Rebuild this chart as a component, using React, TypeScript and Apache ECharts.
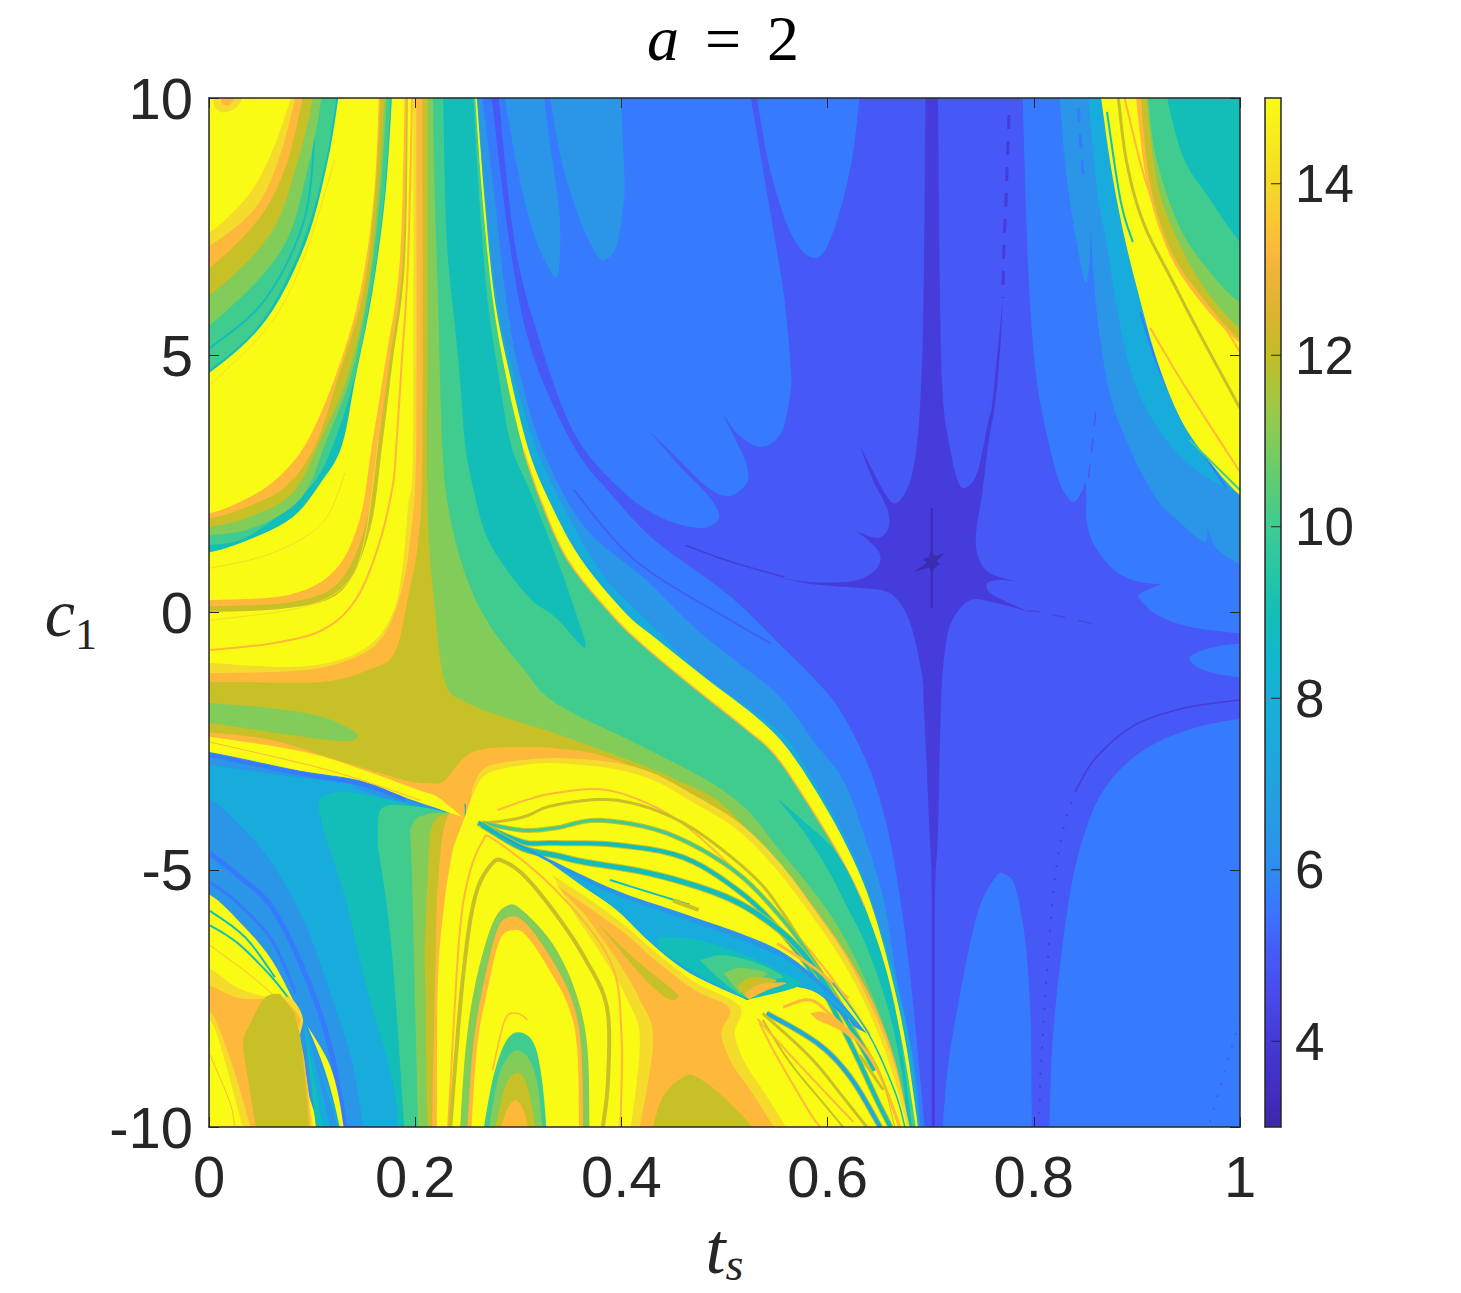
import React, { useEffect, useRef } from "react";
import * as echarts from "echarts";

// Level colours (value 3..15)
const levelValues = [3, 4, 5, 6, 7, 8, 9, 10, 11, 12, 13, 14, 15];
const levelColors = ["#3C2BB0", "#463CDC", "#4659F7", "#367BFD", "#2B95E8", "#17ACDB", "#14BEB8", "#41CC8F", "#82CC59", "#C8C027", "#FEB83B", "#F5DB2C", "#F9FB15"];
const barValues = [3, 3.5, 4, 4.5, 5, 5.5, 6, 6.5, 7, 7.5, 8, 8.5, 9, 9.5, 10, 10.5, 11, 11.5, 12, 12.5, 13, 13.2, 14, 15];
const barColors = ["#3E26A8", "#4230C4", "#4538D7", "#474AE9", "#4659F7", "#3B74FF", "#2D8CF0", "#279AE6", "#22A2DF", "#1AAADB", "#18AFD8", "#10B8CC", "#14BEB6", "#28C6A4", "#3ECC92", "#5ECC74", "#80CC5A", "#A5C740", "#C4BD27", "#DDB32E", "#F0B438", "#FEB83B", "#F5D927", "#F9FB15"];
const tsTicks = [0, 0.2, 0.4, 0.6, 0.8, 1];
const c1Ticks = [-10, -5, 0, 5, 10];
const barTicks = [4, 6, 8, 10, 12, 14];

// Region outlines as (t_s, c1) pairs
const all = [-.02,-10.2, 1.02,-10.2, 1.02,10.2, -.02,10.2];
const p5 = [.273,10.2, .293,6.97, .314,5.02, .354,3.22, .39,2.3, .433,1.39, .504,.34, .554,-.63, .587,-1.29, .612,-1.9, .638,-2.91, .655,-3.94, .668,-5.26, .681,-7.22, .695,-10.2, 1.02,-10.2, 1.02,10.2];
const big6 = [.28,10.2, .296,7.24, .318,5.45, .354,3.49, .4,2.38, .439,1.84, .475,1.64, .492,1.76, .494,1.95, .483,2.3, .454,2.9, .426,3.55, .426,3.55, .458,2.92, .483,2.44, .504,2.26, .521,2.5, .522,2.83, .511,3.35, .498,3.86, .498,3.86, .515,3.43, .536,3.22, .555,3.49, .564,4.28, .564,4.81, .558,6.11, .549,7.24, .54,8.29, .524,10.2];
const topLobe6 = [.53,10.2, .544,8.62, .566,7.3, .589,6.89, .606,7.43, .623,8.74, .632,10.2];
const botLobe6 = [.711,-10.2, .717,-8.78, .731,-7.15, .746,-5.8, .763,-5.14, .772,-5.09, .782,-5.34, .792,-6.43, .797,-8, .798,-10.2];
const cornerLobe6 = [.815,-10.2, .818,-8.39, .828,-6.45, .841,-4.88, .861,-3.69, .887,-2.99, .92,-2.52, .962,-2.21, 1.005,-2.05, 1.02,-2.03, 1.02,-10.2];
const edgeLobe6 = [1.02,-.55, .978,-.66, .956,-.8, .951,-.91, .962,-1.1, .985,-1.22, 1.02,-1.3];
const rightLobe6 = [.789,10.2, .792,8.09, .796,6.11, .803,4.48, .815,3.25, .826,2.48, .838,2.15, .847,2.38, .85,2.57, .85,2.57, .851,2.19, .851,1.8, .858,1.33, .877,.84, .899,.61, .924,.55, .924,.55, .904,.38, .903,.26, .92,-.05, .952,-.28, 1.005,-.42, 1.02,-.45, 1.02,10.2];
const lobe7a = [.285,10.2, .3,8.54, .316,7.3, .331,6.64, .337,6.52, .34,6.77, .34,7.76, .331,9.07, .324,10.2];
const lobe7b = [.329,10.2, .343,8.68, .361,7.57, .377,6.93, .385,6.87, .395,7.1, .401,7.76, .403,8.41, .399,10.2];
const star4 = [.695,10.2, .693,6.07, .69,4.13, .685,3.02, .678,2.44, .667,2.13, .658,2.24, .646,2.67, .631,3.25, .631,3.25, .644,2.57, .654,2.19, .659,1.93, .659,1.64, .649,1.45, .627,1.58, .627,1.58, .639,1.41, .651,1.12, .646,.82, .625,.61, .586,.59, .554,.67, .554,.67, .586,.55, .634,.47, .658,.4, .673,.1, .683,-.4, .692,-1.26, .693,-1.7, .695,-2.52, .699,-4.33, .701,-5.66, .701,-10.2, .704,-10.2, .704,-5.66, .707,-4.33, .71,-1.74, .714,-.73, .721,-.15, .738,.24, .76,.2, .793,.03, .793,.03, .764,.3, .755,.44, .756,.59, .767,.63, .781,.61, .781,.61, .757,.77, .746,1.08, .744,1.54, .75,2.32, .756,3.29, .763,4.13, .768,5.3, .77,6.11, .77,6.11, .76,4.13, .756,3.74, .745,2.71, .733,2.42, .726,2.57, .719,3.16, .712,4.13, .709,6.07, .707,10.2];
const coreBlob3 = [.701,1.25, .704,1.1, .713,1.15, .706,1, .709,.95, .704,.87, .701,.75, .698,.87, .685,.8, .696,.97, .692,1.03, .698,1.07];
const coreBar3 = [.701,2.03, .701,.09];
const right7 = [.824,10.2, .832,8.44, .842,7.14, .85,6.42, .854,6.81, .855,7.47, .855,7.47, .861,5.84, .874,4.23, .896,3.06, .92,2.18, .939,1.8, .961,1.41, .968,1.41, .968,1.64, .968,1.64, .981,1.17, 1.02,.75, 1.02,10.2];
const right8 = [.852,10.2, .862,8.11, .871,7.14, .881,5.84, .896,4.56, .92,3.58, .951,2.87, .987,2.42, 1.02,2.2, 1.02,10.2];
const right15 = [.864,10.2, .874,8.76, .886,7.47, .9,6.31, .92,4.87, .944,3.7, .973,2.87, 1,2.28, 1.02,2.1, 1.02,10.2];
const right13 = [.898,10.2, .91,8.31, .932,6.95, .964,5.98, 1,5.24, 1.02,5.2, 1.02,10.2];
const right12 = [.903,10.2, .913,8.31, .935,6.95, .968,6.01, 1,5.3, 1.02,5.28, 1.02,10.2];
const right11 = [.908,10.2, .92,8.31, .942,7.14, .968,6.23, 1,5.52, 1.02,5.5, 1.02,10.2];
const right10 = [.91,10.2, .918,8.89, .942,7.47, .973,6.56, 1,6.03, 1.02,6, 1.02,10.2];
const right9 = [.927,10.2, .944,8.89, .968,8.11, 1,7.2, 1.02,6.9, 1.02,10.2];
const rs1 = [.882,10, .89,8.76, .906,7.59, .935,6.42, .964,5.3, 1,3.97];
const rs2 = [.888,10, .913,8.11, .949,6.75, 1,5.06];
const rs3 = [.913,5.53, .944,4.48, 1,2.73];
const rs4 = [.871,9.73, .884,8.02, .896,7.2];
const rs5 = [.903,5.84, .925,4.56, .958,3.31, .987,2.42];
const rs6 = [.951,3.35, 1,2.38];
const rs7 = [.843,9.8, .848,8.44];
const left7 = [.264,10.2, .277,8.09, .289,5.98, .302,4.6, .325,3.1, .365,1.64, .422,.67, .468,-.24, .51,-.93, .554,-1.64, .587,-2.52, .616,-3.29, .638,-4.48, .655,-5.64, .668,-7.22, .684,-8.78, .691,-10.2, -.02,-10.2, -.02,10.2];
const left8 = [.26,10.2, .268,8.09, .28,5.98, .296,4.6, .318,3.16, .346,1.97, .382,.73, .429,-.24, .476,-1.16, .554,-2.33, .587,-3.29, .616,-4.33, .638,-5.34, .664,-6.99, .68,-8.39, .69,-10.2, -.02,-10.2, -.02,10.2];
const curve15 = [.259,10.2, .267,8.09, .277,6.11, .292,4.6, .31,3.16, .33,2.17, .36,1.06, .403,.01, .435,-.53, .484,-1.31, .532,-2.05, .561,-2.64, .593,-3.61, .621,-4.64, .642,-5.65, .661,-6.99, .676,-8.39, .689,-10.2, -.02,-10.2, -.02,10.2];
const curve10 = [.2575,10.2, .265,8.09, .275,6.11, .288,4.6, .305,3.16, .322,2.17, .348,1.02, .391,-.05, .423,-.67, .471,-1.47, .52,-2.25, .549,-2.77, .581,-3.71, .612,-4.74, .636,-5.71, .657,-7.05, .673,-8.43, .687,-10.2, -.02,-10.2, -.02,10.2];
const curveEdge = [.305,3.16, .322,2.17, .348,1.02, .391,-.05, .423,-.67, .471,-1.47, .52,-2.25, .549,-2.77, .581,-3.71, .612,-4.74, .636,-5.71];
const upper9 = [.256,10.2, .262,8.09, .27,6.11, .281,4.6, .293,3.25, .311,2.38, .336,1.12, .355,.04, .365,-.69, .336,-.09, .313,.24, .287,.88, .268,1.54, .255,2.52, .248,3.35, .242,4.87, .232,6.81, .229,8.11, .227,10.2];
const lower9 = [.551,-3.61, .576,-4.04, .609,-4.68, .634,-5.65, .655,-6.82, .67,-8.18, .683,-10.2, .678,-10.2, .673,-9.09, .66,-7.79, .638,-6.5, .619,-5.73, .599,-4.95, .576,-4.23];
const left11 = [.217,10.2, .219,8.11, .222,6.17, .226,3.35, .232,2.05, .248,.77, .271,-.21, .304,-1.07, .336,-1.76, .418,-2.58, .483,-3.26, .522,-3.84, .551,-4.56, .583,-5.34, .612,-6.17, .641,-7.34, .665,-8.7, .678,-10.2, -.02,-10.2, -.02,10.2];
const left12 = [.212,10.2, .212,6.07, .212,2.05, .219,.1, .229,-1.37, .251,-1.76, .287,-2.04, .336,-2.35, .418,-2.95, .454,-3.26, .493,-3.65, .532,-4.43, .564,-5.14, .59,-5.98, .617,-6.85, .641,-7.83, .663,-8.9, .675,-10.2, -.02,-10.2, -.02,10.2];
const ul13 = [.207,10.2, .207,3.25, .203,1.41, .193,.3, .18,-.79, .154,-1.12, .11,-1.35, .028,-1.35, -.02,-1.35, -.02,10.2];
const ul14 = [.201,10.2, .201,3.35, .195,1.41, .185,.3, .168,-.48, .142,-.87, .093,-1.12, .001,-1.18, -.02,-1.18, -.02,10.2];
const ul15 = [.198,10.2, .198,3.35, .193,2.05, .187,.77, .178,-.02, .158,-.6, .125,-.93, .077,-1.06, .001,-.98, -.02,-.98, -.02,10.2];
const w3a = [.193,10.2, .19,6.81, .178,4.87, .168,3.25, .156,1.6, .129,.43, .079,.09, .001,.01, -.02,0, -.02,10.2];
const w3b = [.192,10.2, .188,6.81, .175,4.87, .164,3.25, .152,1.7, .125,.57, .078,.2, .001,.12, -.02,.1, -.02,10.2];
const w3c = [.19,10.2, .185,6.81, .171,4.87, .158,3.25, .146,1.8, .122,.82, .077,.34, .001,.24, -.02,.22, -.02,10.2];
const w2a = [.178,10.2, .171,8.11, .158,6.17, .142,4.56, .129,3.25, .11,2.57, .081,1.85, .038,1.41, .001,1.17, -.02,1.15, -.02,10.2];
const w2b = [.177,10.2, .17,8.11, .157,6.17, .141,4.56, .122,3.35, .098,2.44, .04,1.5, .001,1.31, -.02,1.28, -.02,10.2];
const w2c = [.173,10.2, .166,8.11, .154,6.17, .137,4.56, .114,3.35, .09,2.24, .045,1.66, .001,1.5, -.02,1.47, -.02,10.2];
const w2d = [.171,10.2, .164,8.11, .153,6.17, .134,4.56, .108,3.35, .081,2.32, .038,1.85, .001,1.66, -.02,1.63, -.02,10.2];
const w2e = [.167,10.2, .161,8.11, .149,6.17, .125,4.56, .103,3.25, .074,2.44, .03,2, .001,1.83, -.02,1.8, -.02,10.2];
const w2f = [.165,10.2, .16,8.11, .146,6.17, .122,4.56, .093,3.25, .061,2.52, .028,2.13, .001,1.93, -.02,1.9, -.02,10.2];
const w1a = [.127,10.2, .115,8.76, .093,7.14, .054,5.65, .001,4.67, -.02,4.6, -.02,10.2];
const w1b = [.125,10.2, .113,8.76, .09,7.14, .051,5.65, .001,4.73, -.02,4.66, -.02,10.2];
const w1c = [.111,10.2, .096,8.64, .069,7, .001,5.59, -.02,5.55, -.02,10.2];
const w1d = [.103,10.2, .086,8.76, .059,7.34, .001,6.17, -.02,6.1, -.02,10.2];
const w1e = [.093,10.2, .076,8.76, .049,7.67, .001,6.71, -.02,6.65, -.02,10.2];
const w1f = [.086,10.2, .069,8.89, .045,7.86, .001,7.14, -.02,7.1, -.02,10.2];
const w1g = [.083,10.2, .061,8.95, .038,8.11, .001,7.39, -.02,7.33, -.02,10.2];
const tl14 = [.006,10.2, .005,9.85, .014,9.72, .028,9.85, .036,10.2];
const tl13 = [.012,10.2, .012,9.93, .02,9.87, .03,10.2];
const ulS1 = [.001,5.14, .054,6.07, .093,7.67, .103,9.57];
const ulS2 = [.001,4.42, .061,5.65, .093,6.95, .122,8.8];
const ulS3 = [.197,10, .193,6.81, .187,4.87, .182,3.35, .178,2.44, .164,1.27, .142,.24, .11,-.34, .061,-.6, .001,-.73];
const ulS4 = [.132,2.71, .11,1.74, .061,1.15, .001,.86];
const ulS5 = [.164,3.35, .151,1.41, .132,.53, .088,.09, .001,-.15];
const lobe11 = [-.02,-1.72, .001,-1.76, .061,-1.86, .11,-2.03, .139,-2.29, .144,-2.42, .132,-2.5, .093,-2.42, .001,-2.15, -.02,-2.13];
const low13 = [-.02,-2.3, .001,-2.33, .061,-2.48, .125,-2.87, .19,-3.26, .216,-3.32, .229,-3.26, .248,-2.81, .271,-2.64, .319,-2.62, .336,-2.64, .379,-2.77, .444,-3.26, .476,-3.65, .52,-4.23, .559,-5.01, .591,-5.85, .62,-6.7, .646,-7.67, .667,-8.83, .681,-10.2, -.02,-10.2];
const ll7Top = [-.02,-2.68, .001,-2.71, .088,-3.07, .146,-3.26, .19,-3.59, .222,-3.81, .246,-3.98, .246,-3.98, .248,-4.23, .224,-10.2, -.02,-10.2];
const ll6Streak = [.001,-2.77, .088,-3.13, .146,-3.32, .19,-3.63];
const ll8 = [-.02,-2.96, .001,-2.97, .069,-3.16, .132,-3.32, .146,-3.45, .19,-3.7, .222,-3.85, .24,-3.98, .248,-4.23, .224,-10.2, -.02,-10.2];
const ll9 = [.106,-3.78, .11,-3.59, .132,-3.49, .177,-3.65, .216,-3.84, .239,-3.94, .248,-4.23, .224,-10.2, .184,-10.2, .178,-9.09, .151,-7.15, .132,-5.53, .113,-4.37];
const ll10 = [.164,-3.98, .168,-3.8, .183,-3.74, .229,-3.88, .248,-4.23, .224,-10.2, .19,-10.2, .177,-6.5, .164,-4.56];
const ll11 = [.195,-4.23, .203,-3.98, .229,-3.9, .248,-4.23, .224,-10.2, .203,-10.2, .197,-5.2];
const ll12 = [.214,-4.29, .222,-3.98, .239,-3.94, .248,-4.23, .224,-10.2, .212,-10.2, .209,-6.5];
const ll13 = [.221,-5.53, .229,-4.09, .248,-4.1, .224,-10.2, .216,-10.2];
const ll7 = [-.02,-3.6, .001,-3.64, .028,-4.09, .061,-4.87, .093,-6.04, .119,-7.48, .139,-8.76, .151,-10.2, -.02,-10.2];
const llS1 = [.001,-4.68, .028,-5.11, .061,-5.73, .093,-7.01, .117,-8.41, .132,-10];
const llS2 = [.001,-5.24, .028,-5.65, .061,-6.37, .084,-7.4];
const llY = [-.02,-5.45, .001,-5.49, .028,-5.98, .061,-6.76, .091,-7.92, .091,-7.92, .087,-8.12, .093,-9.09, .11,-10.2, -.02,-10.2];
const llS3 = [.001,-5.8, .035,-6.31, .064,-7.09];
const llS4 = [.001,-6.08, .028,-6.43, .061,-7.09, .084,-7.68];
const llS5 = [.001,-6.47, .04,-7.05, .074,-7.64];
const ll14b = [-.02,-6.9, .001,-6.93, .028,-7.3, .061,-7.49, .079,-7.49, .091,-7.88, .088,-8.33, .095,-9.09, .102,-10.2, -.02,-10.2];
const ll13b = [-.02,-7.22, .001,-7.26, .028,-7.49, .054,-7.51, .071,-7.49, .088,-7.88, .087,-8.17, .093,-8.76, .1,-10.2, -.02,-10.2];
const bl14 = [-.02,-7.7, .001,-7.75, .022,-8.76, .043,-10.2, -.02,-10.2];
const bl15 = [-.02,-7.88, .001,-7.92, .016,-8.76, .035,-10.2, -.02,-10.2];
const blS = [.001,-8.6, .02,-9.5, .025,-10];
const llOlive = [.069,-7.41, .054,-7.49, .038,-8.07, .033,-8.39, .038,-9.09, .047,-10.2, .098,-10.2, .09,-8.45, .086,-8.06, .083,-7.79];
const wedge8 = [.092,-7.95, .105,-10.2, .133,-10.2];
const wedge9 = [.092,-7.95, .105,-10.2, .112,-10.2];
const wedge7 = [.094,-7.98, .12,-10.2, .128,-10.2];
const wedge15 = [.096,-8.06, .11,-8.76, .12,-9.42, .129,-10.2, .132,-10.2, .125,-9.34, .115,-8.7, .095,-8.02];
const spike15 = [-.02,-2.4, .001,-2.42, .093,-2.71, .158,-3.12, .203,-3.45, .222,-3.59, .246,-3.98, .246,-3.98, .222,-3.81, .19,-3.59, .146,-3.26, .088,-3.07, .001,-2.71, -.02,-2.7];
const spikeS = [.001,-2.52, .117,-3.07, .205,-3.65];
const fan14 = [.255,-3.45, .265,-3.06, .287,-2.91, .336,-2.83, .39,-2.91, .428,-3.1, .466,-3.5, .515,-4.1, .555,-4.9, .586,-5.75, .615,-6.6, .641,-7.6, .664,-8.75, .682,-10.2, .221,-10.2];
const fan15 = [.248,-3.98, .258,-3.45, .271,-3.12, .304,-2.97, .336,-2.93, .39,-3.03, .431,-3.26, .466,-3.65, .513,-4.23, .551,-5.01, .583,-5.85, .612,-6.7, .638,-7.67, .661,-8.83, .68,-10.2, .221,-10.2, .222,-7.15, .229,-5.53, .237,-4.56];
const or14 = [.333,-5.1, .37,-5.59, .403,-6.08, .433,-6.6, .471,-7.18, .515,-7.65, .51,-8.18, .52,-8.76, .539,-9.34, .566,-10.2, .408,-10.2, .418,-8.33, .406,-7.53, .384,-6.76, .355,-5.88];
const or13 = [.337,-5.3, .37,-5.76, .403,-6.23, .433,-6.76, .471,-7.34, .505,-7.69, .497,-8.18, .507,-8.76, .527,-9.34, .554,-10.2, .416,-10.2, .431,-8.33, .418,-7.53, .396,-6.76, .365,-5.88];
const orOlive = [.428,-10.2, .44,-9.42, .46,-9.03, .473,-9.03, .499,-9.42, .537,-10.2];
const orBlob = [.377,-6.04, .411,-6.7, .45,-7.34, .455,-7.48, .444,-7.5, .421,-7.09, .396,-6.5];
const lens7 = [.263,-4.13, .336,-4.85, .396,-5.41, .46,-5.85, .525,-6.31, .564,-6.7, .605,-7.4, .638,-8.18, .638,-8.18, .622,-7.99, .59,-7.4, .557,-7.28, .522,-7.53, .522,-7.53, .466,-7, .428,-6.41, .396,-5.79, .364,-5.34, .331,-4.87];
const lens8 = [.34,-4.98, .396,-5.5, .46,-5.95, .525,-6.43, .564,-6.8, .605,-7.5, .63,-7.98, .63,-7.98, .622,-7.9, .59,-7.38, .557,-7.28, .522,-7.53, .522,-7.53, .466,-7, .428,-6.41, .396,-5.79, .364,-5.34];
const lens9 = [.435,-6.37, .44,-6.31, .476,-6.37, .525,-6.7, .557,-7.01, .573,-7.25, .522,-7.53, .522,-7.53, .476,-7.05, .437,-6.56];
const lens10 = [.476,-6.76, .499,-6.66, .532,-6.82, .557,-7.09, .537,-7.15, .522,-7.48, .493,-7.09];
const lens11 = [.499,-7.01, .515,-6.91, .541,-7.01, .525,-7.2, .515,-7.4];
const lens12 = [.512,-7.28, .525,-7.09, .551,-7.15, .532,-7.3, .522,-7.5];
const lens13 = [.52,-7.4, .535,-7.22, .56,-7.2, .54,-7.35, .524,-7.52];
const arch11 = [.243,-10.2, .249,-8.45, .259,-7.15, .275,-6.04, .29,-5.69, .304,-5.79, .333,-6.43, .355,-7.34, .367,-8.45, .369,-10.2];
const arch13 = [.25,-10.2, .256,-8.45, .266,-7.24, .28,-6.14, .294,-5.91, .309,-6.08, .333,-6.76, .352,-7.53, .361,-8.45, .363,-10.2];
const arch15 = [.254,-10.2, .26,-8.45, .27,-7.34, .282,-6.37, .296,-6.17, .309,-6.31, .329,-6.91, .348,-7.63, .357,-8.45, .359,-10.2];
const archLine = [.275,-8.9, .287,-7.92, .299,-7.79, .309,-7.92];
const inner10 = [.265,-10.2, .275,-9.09, .287,-8.37, .3,-8.16, .315,-8.37, .323,-9.09, .328,-10.2];
const inner11 = [.27,-10.2, .28,-9.09, .29,-8.64, .3,-8.51, .311,-8.7, .319,-9.22, .324,-10.2];
const inner12 = [.276,-10.2, .287,-9.22, .299,-8.95, .309,-9.22, .318,-10.2];
const inner13 = [.28,-10.2, .289,-9.67, .297,-9.48, .305,-9.67, .311,-10.2];
const arc1 = [.232,-10, .242,-6.5, .251,-5.2, .265,-4.46, .277,-4.42, .336,-5.39, .389,-6.76, .4,-8.18, .399,-10];
const arc2 = [.234,-10, .246,-7.15, .258,-5.53, .275,-4.87, .287,-4.85, .307,-5.14, .336,-5.85, .364,-6.7, .386,-7.67, .387,-9.09, .382,-10];
const rayTop = [.28,-3.84, .307,-3.65, .336,-3.51, .386,-3.45, .444,-3.9, .493,-4.68, .557,-5.98, .602,-7.05, .641,-8.2];
const rayA = [.268,-4.1, .304,-3.98, .336,-3.74, .396,-3.65, .46,-4.09, .525,-5.07, .557,-5.85, .588,-6.85];
const rayB = [.265,-4.09, .304,-4.23, .336,-4.19, .379,-4.04, .444,-4.29, .509,-5.01, .557,-5.98, .59,-6.89, .622,-7.92];
const rayC = [.261,-4.09, .304,-4.46, .336,-4.48, .396,-4.52, .46,-4.76, .513,-5.4, .551,-6.12, .59,-7.15, .622,-8.37, .648,-9.48, .661,-10];
const rayD = [.265,-4.13, .304,-4.58, .336,-4.72, .364,-4.85, .428,-5.07, .493,-5.46, .537,-5.93, .576,-6.62, .615,-7.79, .646,-8.9];
const rayE = [.389,-5.2, .466,-5.68];
const rayF = [.45,-5.6, .475,-5.78];
const fanA = [.541,-7.79, .59,-8.37, .622,-9.03, .651,-10];
const fanB = [.537,-7.92, .564,-8.76, .596,-9.54, .615,-10];
const fanC = [.534,-7.98, .551,-8.64, .583,-9.73, .593,-10];
const fanD = [.537,-7.79, .583,-8.64, .615,-9.42, .638,-10];
const fanE = [.532,-7.9, .55,-8.3, .58,-8.95, .625,-9.9];
const fanLoop = [.557,-7.67, .583,-7.53, .605,-7.86, .631,-8.37, .651,-9, .67,-10];
const fanBlob = [.583,-7.79, .596,-7.77, .612,-7.98, .625,-8.31, .612,-8.12, .59,-7.92];
const fanOlive = [.631,-8.6, .654,-9.28];
const fanG = [.605,-7.2, .64,-8.2, .665,-9.3, .675,-10];
const fanH = [.62,-7.9, .65,-8.9, .665,-10];
const fanI = [.551,-6.43, .59,-6.95, .62,-7.5];
const dotA = [1,-1.7, .945,-1.86, .896,-2.21, .86,-2.83, .841,-3.45];
const dotB = [.841,-3.45, .827,-4.33, .818,-5.65, .812,-7.22, .807,-8.78, .805,-9.87];
const dotC = [1,-7.93, .987,-8.78, .97,-9.96];
const dotD = [.776,9.67, .773,8.02, .771,7.1, .77,6.11];
const dotE = [.354,2.38, .414,1, .504,-.13, .545,-.6];
const dotF = [.462,1.31, .504,1, .558,.69];
const dotG = [.853,2.61, .857,3.31, .861,4.09];
const dotH = [.793,.03, .808,0, .864,-.25];

// Painting order: [level, outline] fills; [level, curve, weight, dashed] strokes
const layers: any[] = [
  [6, all], [5, p5], [6, big6], [6, topLobe6], [6, botLobe6], [6, cornerLobe6], [6, edgeLobe6], [6, rightLobe6], [7, lobe7a], [7, lobe7b],
  [5, dotE, 1.5], [4, dotF, 1.5], [5, dotG, 1.5, 1], [4, dotH, 1, 1], [4, dotA, 1.5], [4, dotB, 2, 2], [5, dotC, 2, 2], [4, dotD, 3, 1],
  [4, star4], [3, coreBar3, 2], [3, coreBlob3],
  [7, right7], [6, rs7, 3, 1], [8, right8], [6, rs5, 2], [15, right15], [12, rs1, 3], [13, rs2, 2], [13, rs3, 2], [9, rs4, 2], [10, rs6, 2],
  [13, right13], [12, right12], [11, right11], [10, right10], [9, right9],
  [7, left7], [8, left8], [15, curve15], [10, curve10], [13, curveEdge, 1.5], [9, upper9], [9, lower9], [11, left11], [12, left12],
  [13, ul13], [14, ul14], [15, ul15], [12, w3a], [13, w3b], [15, w3c],
  [13, ulS3, 2], [14, ulS5, 1], [9, w2a], [10, w2b], [11, w2c], [12, w2d], [13, w2e], [15, w2f], [14, ulS4, 1], [14, ulS2, 1],
  [9, w1a], [10, w1b], [9, ulS1, 2], [11, w1c], [12, w1d], [13, w1e], [14, w1f], [15, w1g], [14, tl14], [13, tl13], [11, lobe11],
  [13, low13], [7, ll7Top], [6, ll6Streak, 4], [8, ll8], [9, ll9], [10, ll10], [11, ll11], [12, ll12], [13, ll13], [7, ll7], [6, llS1, 5], [6, llS2, 3],
  [15, llY], [9, llS3, 2], [9, llS4, 2], [13, llS5, 1], [14, ll14b], [13, ll13b], [14, bl14], [15, bl15], [13, blS, 1], [12, llOlive],
  [8, wedge8], [9, wedge9], [7, wedge7], [15, wedge15], [15, spike15], [13, spikeS, 1],
  [14, fan14], [15, fan15], [14, or14], [13, or13], [12, orOlive], [12, orBlob],
  [13, arc1, 2], [12, arc2, 4], [11, arch11], [13, arch13], [15, arch15], [13, archLine, 1.5], [10, inner10], [11, inner11], [12, inner12], [13, inner13],
  [13, rayTop, 2], [12, rayA, 3], [12, rayB, 5], [10, rayB, 3], [12, rayC, 6], [9, rayC, 4], [12, rayD, 7], [9, rayD, 5], [9, rayE, 2], [12, rayF, 4], [13, fanI, 3],
  [7, lens7], [8, lens8], [9, lens9], [10, lens10], [11, lens11], [12, lens12], [13, lens13],
  [12, fanA, 6], [8, fanA, 4], [12, fanB, 2], [13, fanC, 2], [12, fanD, 3], [13, fanE, 2], [13, fanLoop, 3], [13, fanBlob], [12, fanOlive, 3], [9, fanG, 1.5], [12, fanH, 1],
];

const colorOf = (v: number) => levelColors[levelValues.indexOf(v)];

function smoothPts(pts: number[][]) {
  const out: number[][] = [];
  const n = pts.length;
  for (let i = 0; i < n - 1; i++) {
    const p0 = pts[Math.max(i - 1, 0)], p1 = pts[i], p2 = pts[i + 1], p3 = pts[Math.min(i + 2, n - 1)];
    if (p1[0] === p2[0] && p1[1] === p2[1]) continue;
    for (let k = 0; k < 6; k++) {
      const t = k / 6, t2 = t * t, t3 = t2 * t;
      const f = (a: number, b: number, c: number, d: number) =>
        0.5 * (2 * b + (c - a) * t + (2 * a - 5 * b + 4 * c - d) * t2 + (3 * b - a - 3 * c + d) * t3);
      out.push([f(p0[0], p1[0], p2[0], p3[0]), f(p0[1], p1[1], p2[1], p3[1])]);
    }
  }
  out.push(pts[n - 1]);
  return out;
}

function layerPoints(flat: number[], api: any) {
  const pts: number[][] = [];
  for (let i = 0; i < flat.length; i += 2) {
    const px = api.coord([flat[i], flat[i + 1]]);
    pts.push(px);
    if (flat[i] < 0 || flat[i] > 1 || flat[i + 1] < -10 || flat[i + 1] > 10) pts.push(px);
  }
  return smoothPts(pts);
}

export default function App() {
  const ref = useRef<HTMLDivElement>(null);
  useEffect(() => {
    const chart = echarts.init(ref.current!, undefined, { renderer: "svg" });
    const ink = "#262626";
    const labelFont = "Liberation Sans";
    const mathFont = "Liberation Serif";
    const line = { show: true, onZero: false, lineStyle: { color: ink, width: 1.5 } };
    const tick = { show: true, inside: true, length: 10, lineStyle: { color: ink, width: 1 } };
    chart.setOption({
      animation: false,
      backgroundColor: "#fff",
      title: {
        text: "{a|a}{b|=}{c|2}",
        left: 647,
        top: 4,
        padding: 0,
        textStyle: {
          fontWeight: "normal",
          rich: {
            a: { fontFamily: mathFont, fontStyle: "italic", fontWeight: "normal", fontSize: 64, lineHeight: 68, color: "#000", padding: [0, 26, 0, 0] },
            b: { fontFamily: mathFont, fontWeight: "normal", fontSize: 64, lineHeight: 68, color: "#000", padding: [0, 26, 0, 0] },
            c: { fontFamily: mathFont, fontWeight: "normal", fontSize: 64, lineHeight: 68, color: "#000" },
          },
        },
      },
      grid: [
        { left: 209, top: 98, width: 1031, height: 1029, outerBoundsMode: "none" },
        { left: 1265, top: 98, width: 16, height: 1029, outerBoundsMode: "none" },
      ],
      xAxis: [
        {
          gridIndex: 0, type: "value", min: 0, max: 1, interval: 0.2, position: "bottom", z: 5,
          axisLine: line, axisTick: tick, splitLine: { show: false },
          axisLabel: {
            fontSize: 58, fontFamily: labelFont, color: ink, margin: 20,
            customValues: tsTicks,
            formatter: (v: number) => (v === 0 || v === 1 ? String(v) : v.toFixed(1)),
          },
          name: "{b|t}{s|s}", nameLocation: "middle", nameGap: 84,
          nameTextStyle: {
            rich: {
              b: { fontFamily: mathFont, fontStyle: "italic", fontSize: 72, color: ink, lineHeight: 76 },
              s: { fontFamily: mathFont, fontStyle: "italic", fontSize: 46, color: ink, lineHeight: 76, verticalAlign: "bottom" },
            },
          },
        },
        {
          gridIndex: 0, type: "value", min: 0, max: 1, interval: 0.2, position: "top", z: 5,
          axisLine: line, axisTick: tick, axisLabel: { show: false }, splitLine: { show: false },
        },
        {
          gridIndex: 1, type: "value", min: 0, max: 1, position: "bottom", z: 5,
          axisLine: line, axisTick: { show: false }, axisLabel: { show: false }, splitLine: { show: false },
        },
        {
          gridIndex: 1, type: "value", min: 0, max: 1, position: "top", z: 5,
          axisLine: line, axisTick: { show: false }, axisLabel: { show: false }, splitLine: { show: false },
        },
      ],
      yAxis: [
        {
          gridIndex: 0, type: "value", min: -10, max: 10, interval: 5, position: "left", z: 5,
          axisLine: line, axisTick: tick, splitLine: { show: false },
          axisLabel: { fontSize: 58, fontFamily: labelFont, color: ink, margin: 16, customValues: c1Ticks },
          name: "{b|c}{s|1}", nameLocation: "middle", nameRotate: 0, nameGap: 112,
          nameTextStyle: {
            rich: {
              b: { fontFamily: mathFont, fontStyle: "italic", fontSize: 68, color: ink, lineHeight: 88 },
              s: { fontFamily: mathFont, fontSize: 44, color: ink, lineHeight: 88, verticalAlign: "bottom" },
            },
          },
        },
        {
          gridIndex: 0, type: "value", min: -10, max: 10, interval: 5, position: "right", z: 5,
          axisLine: line, axisTick: tick, axisLabel: { show: false }, splitLine: { show: false },
        },
        {
          gridIndex: 1, type: "value", min: 3, max: 15, position: "left", z: 5,
          axisLine: line, axisTick: { show: false }, axisLabel: { show: false }, splitLine: { show: false },
        },
        {
          gridIndex: 1, type: "value", min: 3, max: 15, position: "right", z: 5,
          axisLine: line, splitLine: { show: false },
          axisTick: { show: false },
          axisLabel: { show: true, fontSize: 53, fontFamily: labelFont, color: ink, margin: 14, customValues: barTicks },
        },
      ],
      series: [
        {
          type: "custom",
          xAxisIndex: 0,
          yAxisIndex: 0,
          coordinateSystem: "cartesian2d",
          clip: true,
          silent: true,
          z: 1,
          data: layers.map((l, i) => [i, l[0]]),
          encode: { x: 0, y: 1 },
          renderItem: (_: any, api: any) => {
            const l = layers[api.value(0)];
            const points = layerPoints(l[1], api);
            if (l[2]) {
              return {
                type: "polyline",
                shape: { points },
                style: {
                  fill: "none",
                  stroke: colorOf(l[0]),
                  lineWidth: l[2],
                  lineDash: l[3] === 1 ? [14, 12] : l[3] === 2 ? [2, 11] : undefined,
                },
              };
            }
            return { type: "polygon", shape: { points }, style: { fill: colorOf(l[0]) } };
          },
        },
        {
          type: "custom",
          xAxisIndex: 2,
          yAxisIndex: 2,
          coordinateSystem: "cartesian2d",
          silent: true,
          z: 1,
          data: [[0, 3, 1, 15]],
          encode: { x: [0, 2], y: [1, 3] },
          renderItem: (_: any, api: any) => {
            const a = api.coord([api.value(0), api.value(1)]);
            const b = api.coord([api.value(2), api.value(3)]);
            const lo = barValues[0];
            const hi = barValues[barValues.length - 1];
            return {
              type: "rect",
              shape: { x: a[0], y: b[1], width: b[0] - a[0], height: a[1] - b[1] },
              style: {
                fill: new echarts.graphic.LinearGradient(0, 1, 0, 0,
                  barValues.map((v, i) => ({ offset: (v - lo) / (hi - lo), color: barColors[i] }))),
              },
            };
          },
        },
        {
          type: "custom",
          xAxisIndex: 2,
          yAxisIndex: 2,
          coordinateSystem: "cartesian2d",
          silent: true,
          z: 3,
          data: barTicks.map((v) => [v]),
          encode: { y: 0 },
          renderItem: (_: any, api: any) => {
            const v = api.value(0);
            const a = api.coord([0.38, v]);
            const b = api.coord([1, v]);
            return {
              type: "line",
              shape: { x1: a[0], y1: a[1], x2: b[0], y2: b[1] },
              style: { stroke: ink, lineWidth: 1 },
            };
          },
        },
      ],
    });
    return () => chart.dispose();
  }, []);
  return <div ref={ref} style={{ position: "absolute", left: 0, top: 0, width: 1461, height: 1293 }} />;
}
